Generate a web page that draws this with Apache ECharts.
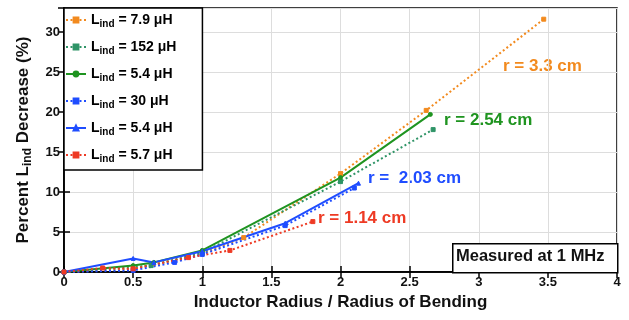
<!DOCTYPE html>
<html>
<head>
<meta charset="utf-8">
<title>Inductance decrease vs bending</title>
<script src="https://cdn.jsdelivr.net/npm/echarts@6/dist/echarts.min.js"></script>
<style>
  html, body { margin: 0; padding: 0; background: #fff; }
  #main { width: 629px; height: 320px; }
</style>
</head>
<body>
<div id="main"></div>
<script>
// ratio = inductor radius / radius of bending, y = percent decrease of L_ind
var orangeX = [0, 0.5, 1, 1.3, 2, 2.62, 3.47];
var orangeY = [0, 0.4, 2.3, 4.3, 12.3, 20.2, 31.6];
var tealX = [0, 0.63, 1, 2, 2.67];
var tealY = [0, 0.8, 2.4, 11.3, 17.8];
var greenX = [0, 0.5, 0.65, 1, 2, 2.65];
var greenY = [0, 0.8, 1.2, 2.7, 11.8, 19.7];
var blueSqX = [0, 0.5, 0.8, 1, 1.6, 2.1];
var blueSqY = [0, 0.2, 1.2, 2.2, 5.8, 10.5];
var blueX = [0, 0.5, 0.65, 1, 1.6, 2.13];
var blueY = [0, 1.7, 1.2, 2.6, 6.1, 11.1];
var redX = [0, 0.28, 0.5, 0.9, 1.2, 1.8];
var redY = [0, 0.5, 0.4, 1.8, 2.7, 6.3];

var legendNames = ['7.9 \u03bcH', '152 \u03bcH', '5.4 \u03bcH', '30 \u03bcH', '5.4 \u03bcH ', '5.7 \u03bcH'];
var xTicks = [0, 0.5, 1, 1.5, 2, 2.5, 3, 3.5, 4];
var yTicks = [0, 5, 10, 15, 20, 25, 30];

function pairs(xs, ys) {
  var out = [];
  for (var i = 0; i < xs.length; i++) out.push([xs[i], ys[i]]);
  return out;
}

var font = 'Liberation Sans, Arial, sans-serif';

function line(name, xs, ys, color, dotted, symbol) {
  return {
    name: name,
    type: 'line',
    data: pairs(xs, ys),
    symbol: symbol,
    symbolSize: 4,
    showSymbol: true,
    lineStyle: { color: color, width: 2, type: dotted ? [2, 2.5] : 'solid' },
    itemStyle: { color: color, borderColor: color, borderWidth: 1 },
    z: 3
  };
}

var chart = echarts.init(document.getElementById('main'));
chart.setOption({
  animation: false,
  textStyle: { fontFamily: font },
  grid: { left: 64, right: 12, top: 8, bottom: 48, show: true, borderColor: '#000', borderWidth: 1.5 },
  legend: {
    orient: 'vertical',
    left: 64, top: 8,
    data: legendNames,
    itemWidth: 20, itemHeight: 6, itemGap: 11,
    padding: [5, 26, 6, 1],
    borderColor: '#000', borderWidth: 1.5,
    backgroundColor: '#fff',
    formatter: function (n) {
      return '{b|L}{s|ind}{b| = ' + n.trim() + '}';
    },
    textStyle: {
      rich: {
        b: { fontSize: 14, fontWeight: 'bold', color: '#000', fontFamily: font },
        s: { fontSize: 10, fontWeight: 'bold', color: '#000', fontFamily: font, padding: [8, 0, 0, 0] }
      }
    }
  },
  xAxis: [{
    type: 'value', min: 0, max: 4, interval: 0.5,
    name: 'Inductor Radius / Radius of Bending',
    nameLocation: 'middle', nameGap: 22,
    nameTextStyle: { fontSize: 17, fontWeight: 'bold', color: '#111', fontFamily: font },
    axisLine: { lineStyle: { color: '#000', width: 1.5 } },
    axisTick: { inside: true, length: 6, lineStyle: { color: '#000', width: 1.5 } },
    axisLabel: { fontSize: 13, fontWeight: 'bold', color: '#111', margin: 4,
      formatter: function (v) { return xTicks.indexOf(v) >= 0 ? String(v) : ''; } },
    splitLine: { lineStyle: { color: '#ddd', width: 1 } }
  }, {
    type: 'value', min: 0, max: 4, interval: 0.5, position: 'top',
    axisLine: { lineStyle: { color: '#000', width: 1.5 } },
    axisTick: { inside: true, length: 6, lineStyle: { color: '#000', width: 1.5 } },
    axisLabel: { show: false }, splitLine: { show: false }
  }],
  yAxis: [{
    type: 'value', min: 0, max: 33, interval: 5,
    name: '{b|Percent L}{s|ind}{b| Decrease (%)}',
    nameLocation: 'middle', nameGap: 30, nameRotate: 90,
    nameTextStyle: {
      rich: {
        b: { fontSize: 17, fontWeight: 'bold', color: '#111', fontFamily: font },
        s: { fontSize: 12, fontWeight: 'bold', color: '#111', fontFamily: font, padding: [9, 0, 0, 0] }
      }
    },
    axisLine: { lineStyle: { color: '#000', width: 1.5 } },
    axisTick: { inside: true, length: 6, lineStyle: { color: '#000', width: 1.5 } },
    axisLabel: { fontSize: 13, fontWeight: 'bold', color: '#111', margin: 4, showMaxLabel: false,
      formatter: function (v) { return yTicks.indexOf(v) >= 0 ? String(v) : ''; } },
    splitLine: { lineStyle: { color: '#ddd', width: 1 } }
  }, {
    type: 'value', min: 0, max: 33, interval: 5, position: 'right',
    axisLine: { lineStyle: { color: '#000', width: 1.5 } },
    axisTick: { inside: true, length: 6, lineStyle: { color: '#000', width: 1.5 } },
    axisLabel: { show: false }, splitLine: { show: false }
  }],
  series: [
    line(legendNames[0], orangeX, orangeY, '#f28a1e', true, 'rect'),
    line(legendNames[1], tealX, tealY, '#2f9467', true, 'rect'),
    line(legendNames[2], greenX, greenY, '#1f9420', false, 'circle'),
    line(legendNames[3], blueSqX, blueSqY, '#1f4dff', true, 'rect'),
    line(legendNames[4], blueX, blueY, '#1f4dff', false, 'triangle'),
    line(legendNames[5], redX, redY, '#ee3a24', true, 'rect')
  ],
  graphic: [
    { type: 'text', left: 503, top: 58, style: { text: 'r = 3.3 cm', fill: '#f28a1e', font: 'bold 17px ' + font } },
    { type: 'text', left: 444, top: 112, style: { text: 'r = 2.54 cm', fill: '#1f9420', font: 'bold 17px ' + font } },
    { type: 'text', left: 368, top: 170, style: { text: 'r =  2.03 cm', fill: '#1f4dff', font: 'bold 17px ' + font } },
    { type: 'text', left: 318, top: 210, style: { text: 'r = 1.14 cm', fill: '#ee3a24', font: 'bold 17px ' + font } },
    { type: 'rect', left: 452, top: 243, shape: { width: 165, height: 29 },
      style: { fill: '#fff', stroke: '#000', lineWidth: 1.5 }, z: 10 },
    { type: 'text', left: 456, top: 248, z: 11,
      style: { text: 'Measured at 1 MHz', fill: '#111', font: 'bold 16.5px ' + font } }
  ]
});
</script>
</body>
</html>
